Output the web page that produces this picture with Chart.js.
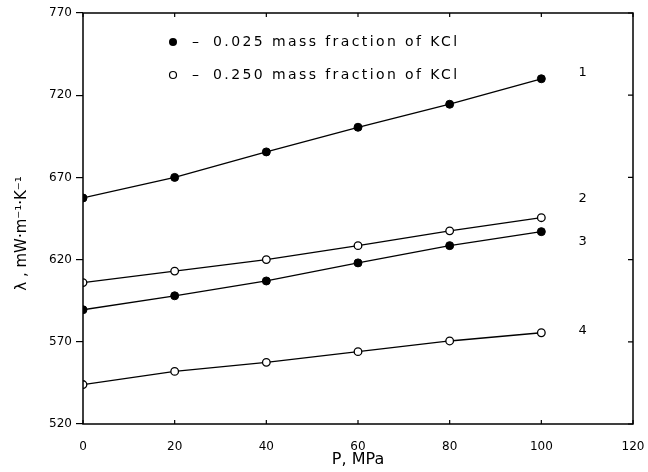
<!DOCTYPE html>
<html lang="en">
<head>
    <meta charset="UTF-8">
    <title>Thermal conductivity of KCl solutions vs pressure</title>
    <script src="https://cdn.jsdelivr.net/npm/chart.js@4.4.0/dist/chart.umd.min.js"></script>
    <style>
        body{
            margin: 0;
            background: #fff;
        }
        .box{
            width: 648px;
            height: 472px;
        }
    </style>
</head>
<body>
    <div class="box">
        <canvas id="chartCanvas"></canvas>
    </div>

    <script>
        // pressure, MPa
        var pressure = [0, 20, 40, 60, 80, 100];

        // thermal conductivity, mW/(m K)
        var curve1 = [657.5, 670, 685.5, 700.5, 714.5, 730];
        var curve2 = [606, 613, 620, 628.5, 637.5, 645.5];
        var curve3 = [589.5, 598, 607, 618, 628.5, 637];
        var curve4 = [544, 552, 557.5, 564, 570.5, 575.5];

        var curveNames = ['1', '2', '3', '4'];
        var legendTexts = ['0.025 mass fraction of KCl', '0.250 mass fraction of KCl'];

        var xTicks = [0, 20, 40, 60, 80, 100, 120];
        var yTicks = [520, 570, 620, 670, 720, 770];

        function toPoints(ys){
            return pressure.map(function(p, i){ return {x: p, y: ys[i]}; });
        }

        var FONT = '"DejaVu Sans", sans-serif';

        var filled = {
            pointRadius: 4,
            pointBackgroundColor: '#000',
            pointBorderColor: '#000',
            pointBorderWidth: 1
        };
        var open = {
            pointRadius: 3.8,
            pointBackgroundColor: '#fff',
            pointBorderColor: '#000',
            pointBorderWidth: 1.3
        };

        function makeSet(name, ys, style){
            return Object.assign({
                label: name,
                data: toPoints(ys),
                showLine: true,
                borderColor: '#000',
                borderWidth: 1.3,
                tension: 0
            }, style);
        }

        // frame, inside ticks, curve numbers, legend and y title
        var paperFrame = {
            id: 'paperFrame',
            afterDraw: function(chart){
                var ctx = chart.ctx;
                var a = chart.chartArea;
                var xs = chart.scales.x;
                var ys = chart.scales.y;
                ctx.save();
                ctx.strokeStyle = '#000';
                ctx.fillStyle = '#000';
                ctx.lineWidth = 1.5;
                ctx.strokeRect(a.left, a.top, a.right - a.left, a.bottom - a.top);

                ctx.lineWidth = 1.2;
                ctx.beginPath();
                xTicks.forEach(function(v){
                    var px = xs.getPixelForValue(v);
                    ctx.moveTo(px, a.bottom); ctx.lineTo(px, a.bottom - 4);
                    ctx.moveTo(px, a.top); ctx.lineTo(px, a.top + 4);
                });
                yTicks.forEach(function(v){
                    var py = ys.getPixelForValue(v);
                    ctx.moveTo(a.right, py); ctx.lineTo(a.right - 5, py);
                });
                ctx.stroke();

                // curve numbers
                var labelY = [734, 657, 631, 577];
                ctx.font = '13px ' + FONT;
                ctx.textAlign = 'center';
                ctx.textBaseline = 'middle';
                curveNames.forEach(function(n, i){
                    ctx.fillText(n, xs.getPixelForValue(109), ys.getPixelForValue(labelY[i]));
                });

                // legend
                ctx.font = '14px ' + FONT;
                ctx.letterSpacing = '2.4px';
                ctx.textAlign = 'left';
                legendTexts.forEach(function(t, i){
                    var cy = a.top + 29 + i * 33;
                    var cx = a.left + 90;
                    ctx.beginPath();
                    ctx.arc(cx, cy, i == 0 ? 4 : 3.5, 0, Math.PI * 2);
                    if(i == 0){
                        ctx.fill();
                    } else {
                        ctx.fillStyle = '#fff';
                        ctx.fill();
                        ctx.fillStyle = '#000';
                        ctx.lineWidth = 1.2;
                        ctx.stroke();
                    }
                    ctx.fillText('\u2013', cx + 19, cy);
                    ctx.fillText(t, cx + 40, cy);
                });
                ctx.letterSpacing = '0px';

                // y axis title
                ctx.translate(22, (a.top + a.bottom) / 2 + 15);
                ctx.rotate(-Math.PI / 2);
                ctx.font = '15px ' + FONT;
                ctx.textAlign = 'center';
                ctx.fillText('\u03BB , mW\u00B7m\u207B\u00B9\u00B7K\u207B\u00B9', 0, 0);
                ctx.restore();
            }
        };

        const ctx = document.getElementById('chartCanvas').getContext('2d');
        const chart = new Chart(ctx, {
            type: 'scatter',
            data: {
                datasets: [
                    makeSet('1', curve1, filled),
                    makeSet('2', curve2, open),
                    makeSet('3', curve3, filled),
                    makeSet('4', curve4, open)
                ]
            },
            options: {
                responsive: true,
                maintainAspectRatio: false,
                animation: false,
                layout: {
                    padding: {top: 13, right: 15, left: 0, bottom: 0}
                },
                plugins: {
                    legend: {display: false},
                    tooltip: {enabled: false}
                },
                scales: {
                    x: {
                        type: 'linear',
                        min: 0,
                        max: 120,
                        afterFit: function(scale){
                            scale.height = 48;
                            scale.paddingLeft = 0;
                            scale.paddingRight = 0;
                        },
                        grid: {display: false},
                        border: {display: false},
                        ticks: {
                            stepSize: 20,
                            padding: 8,
                            color: '#000',
                            font: {family: FONT, size: 12}
                        },
                        title: {
                            display: true,
                            text: 'P, MPa',
                            color: '#000',
                            padding: {top: 0, bottom: 3},
                            font: {family: FONT, size: 16}
                        }
                    },
                    y: {
                        type: 'linear',
                        min: 520,
                        max: 770,
                        afterFit: function(scale){ scale.width = 83; },
                        grid: {
                            drawOnChartArea: false,
                            drawTicks: true,
                            tickLength: 7,
                            color: '#000',
                            lineWidth: 1.2
                        },
                        border: {display: false},
                        ticks: {
                            stepSize: 50,
                            padding: 4,
                            color: '#000',
                            font: {family: FONT, size: 12}
                        }
                    }
                }
            },
            plugins: [paperFrame]
        });
    </script>
</body>
</html>
